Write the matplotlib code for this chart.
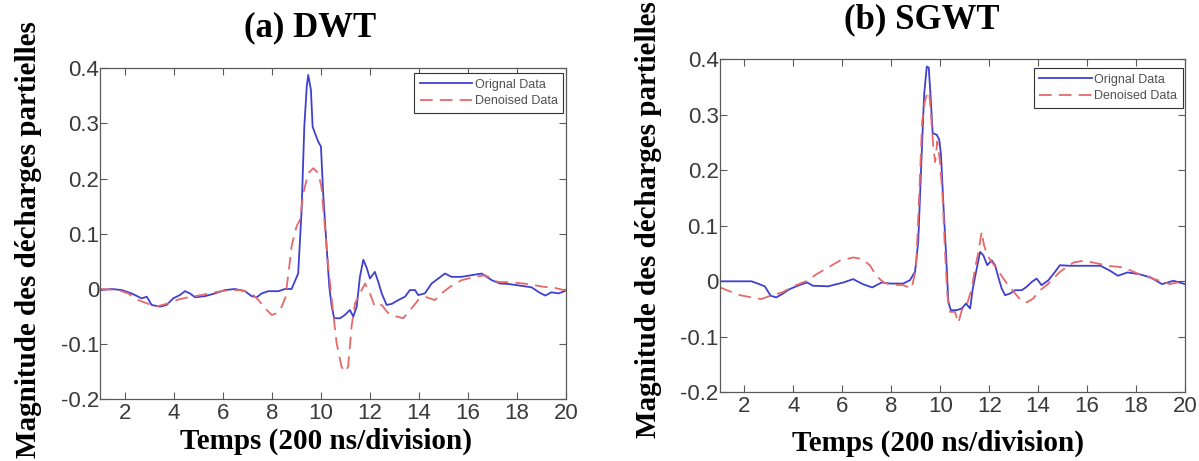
import matplotlib
matplotlib.use("Agg")
import matplotlib.pyplot as plt
from matplotlib.ticker import FuncFormatter, MultipleLocator

plt.rcParams['font.family'] = ['Liberation Sans', 'DejaVu Sans']

# ---- (a) DWT ----
dwt_orig_x = [1.0, 1.46, 1.87, 2.27, 2.68, 2.89, 3.09, 3.43, 3.7, 3.97, 4.24, 4.45, 4.65, 4.86,
              5.27, 5.67, 6.08, 6.49, 6.9, 7.17, 7.38, 7.58, 7.85, 8.26, 8.53, 8.8, 9.07, 9.21,
              9.32, 9.42, 9.48, 9.59, 9.66, 9.76, 9.89, 10.0, 10.09, 10.23, 10.34, 10.44, 10.54,
              10.78, 10.98, 11.18, 11.32, 11.46, 11.59, 11.73, 11.87, 12.0, 12.2, 12.34, 12.48,
              12.68, 12.89, 13.16, 13.43, 13.63, 13.84, 13.97, 14.24, 14.52, 14.79, 15.06, 15.33,
              15.74, 16.15, 16.56, 16.97, 17.3, 17.67, 18.14, 18.6, 18.9, 19.16, 19.4, 19.7, 20.0]
dwt_orig_y = [-0.002, 0.0, -0.002, -0.008, -0.017, -0.014, -0.029, -0.032, -0.029, -0.017, -0.011,
              -0.004, -0.008, -0.015, -0.013, -0.008, -0.002, 0.0, -0.004, -0.013, -0.015, -0.008,
              -0.004, -0.004, 0.0, 0.0, 0.028, 0.143, 0.294, 0.367, 0.388, 0.361, 0.294, 0.282,
              0.267, 0.258, 0.173, 0.077, 0.004, -0.032, -0.053, -0.053, -0.047, -0.038, -0.050,
              -0.032, 0.022, 0.053, 0.038, 0.019, 0.031, 0.013, -0.008, -0.029, -0.027, -0.020,
              -0.014, -0.002, -0.002, -0.011, -0.008, 0.010, 0.019, 0.028, 0.022, 0.022, 0.025,
              0.028, 0.016, 0.010, 0.009, 0.006, 0.003, -0.006, -0.012, -0.006, -0.008, -0.003]

dwt_den_x = [1.0, 1.73, 2.13, 2.54, 2.95, 3.36, 3.77, 4.18, 4.59, 5.13, 5.67, 6.22, 6.76, 7.17,
             7.45, 7.72, 7.99, 8.2, 8.4, 8.55, 8.74, 8.8, 9.0, 9.14, 9.28, 9.48, 9.69, 9.89, 10.02,
             10.16, 10.3, 10.5, 10.64, 10.84, 10.98, 11.11, 11.25, 11.39, 11.59, 11.8, 12.0, 12.2,
             12.48, 12.75, 13.09, 13.36, 13.7, 13.97, 14.24, 14.65, 14.92, 15.27, 15.74, 16.3,
             16.7, 17.2, 17.8, 18.45, 19.08, 19.55, 20.0]
dwt_den_y = [0.0, -0.002, -0.008, -0.020, -0.027, -0.031, -0.026, -0.019, -0.015, -0.011, -0.006,
             -0.002, -0.002, -0.008, -0.020, -0.035, -0.047, -0.044, -0.032, -0.015, 0.053, 0.077,
             0.113, 0.125, 0.173, 0.21, 0.219, 0.21, 0.185, 0.113, 0.040, -0.044, -0.098, -0.141,
             -0.150, -0.141, -0.068, -0.026, -0.008, 0.010, -0.008, -0.032, -0.029, -0.044, -0.050,
             -0.053, -0.035, -0.020, -0.014, -0.020, -0.008, 0.004, 0.016, 0.022, 0.025, 0.013,
             0.012, 0.009, 0.004, 0.002, -0.003]

# ---- (b) SGWT ----
sgwt_orig_x = [1.0, 2.29, 2.6, 2.83, 3.07, 3.3, 3.54, 3.85, 4.17, 4.56, 4.8, 5.42, 6.05, 6.44, 6.83,
               7.22, 7.61, 7.95, 8.49, 8.76, 8.97, 9.1, 9.24, 9.34, 9.45, 9.53, 9.61, 9.69, 9.86,
               9.96, 10.03, 10.13, 10.24, 10.33, 10.43, 10.67, 10.88, 11.05, 11.22, 11.33, 11.49,
               11.63, 11.76, 11.92, 12.1, 12.24, 12.37, 12.51, 12.65, 12.85, 13.06, 13.33, 13.53,
               13.74, 13.94, 14.14, 14.42, 14.69, 14.89, 15.3, 15.92, 16.55, 16.94, 17.26, 17.65,
               18.12, 18.6, 19.06, 19.53, 20.0]
sgwt_orig_y = [0.0, 0.0, -0.005, -0.009, -0.026, -0.029, -0.023, -0.014, -0.008, -0.002, -0.008,
               -0.009, -0.002, 0.004, -0.005, -0.011, -0.002, -0.004, -0.004, 0.002, 0.017, 0.071,
               0.228, 0.336, 0.387, 0.385, 0.33, 0.267, 0.264, 0.255, 0.228, 0.137, 0.047, -0.037,
               -0.052, -0.052, -0.049, -0.040, -0.049, -0.013, 0.023, 0.053, 0.047, 0.029, 0.038,
               0.029, 0.008, -0.013, -0.025, -0.022, -0.016, -0.016, -0.010, -0.001, 0.005, -0.007,
               0.002, 0.017, 0.029, 0.028, 0.028, 0.028, 0.019, 0.010, 0.016, 0.013, 0.007, -0.005,
               0.001, -0.005]

sgwt_den_x = [1.0, 1.34, 1.82, 2.29, 2.68, 3.07, 3.54, 4.0, 4.56, 4.95, 5.42, 5.89, 6.44, 6.83,
              7.14, 7.38, 7.69, 7.95, 8.49, 8.83, 9.01, 9.14, 9.26, 9.37, 9.47, 9.55, 9.64, 9.72,
              9.79, 9.88, 9.99, 10.1, 10.19, 10.29, 10.4, 10.6, 10.74, 10.88, 11.08, 11.29, 11.42,
              11.56, 11.69, 11.79, 11.92, 12.1, 12.31, 12.58, 12.78, 13.06, 13.33, 13.53, 13.8,
              14.08, 14.35, 14.62, 14.89, 15.45, 15.84, 16.24, 16.86, 17.5, 18.12, 18.75, 19.38,
              19.69, 20.0]
sgwt_den_y = [-0.011, -0.017, -0.025, -0.029, -0.032, -0.026, -0.020, -0.009, 0.001, 0.013, 0.025,
              0.037, 0.043, 0.040, 0.028, 0.010, -0.002, -0.006, -0.007, -0.013, 0.023, 0.155,
              0.288, 0.324, 0.339, 0.342, 0.288, 0.24, 0.215, 0.252, 0.215, 0.15, 0.059, -0.025,
              -0.055, -0.055, -0.075, -0.052, -0.043, -0.013, 0.023, 0.053, 0.089, 0.065, 0.047,
              0.035, 0.023, 0.005, -0.007, -0.022, -0.036, -0.038, -0.031, -0.016, -0.007, 0.005,
              0.017, 0.034, 0.037, 0.034, 0.028, 0.025, 0.013, 0.004, -0.005, -0.002, -0.008]

titles = ['(a) DWT', '(b) SGWT']
xlabel = 'Temps (200 ns/division)'
ylabel = 'Magnitude des décharges partielles'
legend_labels = ['Orignal Data', 'Denoised Data']
x_ticks = [2, 4, 6, 8, 10, 12, 14, 16, 18, 20]

BLUE = '#4040d0'
RED = '#e66a6a'
FRAME = '#5a5a5a'
SERIF = ['Liberation Serif', 'DejaVu Serif']

fig = plt.figure(figsize=(11.99, 4.61), dpi=100)

panels = [
    dict(rect=[0.0838, 0.1338, 0.3882, 0.718], data=(dwt_orig_x, dwt_orig_y, dwt_den_x, dwt_den_y),
         leg=(0.994, 0.986), title=(0.2585, 0.939), xl=(0.272, 0.043), yl=(0.024, 0.48)),
    dict(rect=[0.6005, 0.149, 0.3878, 0.7223], data=(sgwt_orig_x, sgwt_orig_y, sgwt_den_x, sgwt_den_y),
         leg=(0.996, 0.974), title=(0.769, 0.957), xl=(0.782, 0.039), yl=(0.541, 0.523)),
]

fmt_y = FuncFormatter(lambda v, _: '0' if abs(v) < 1e-9 else f'{v:.1f}')

for i, p in enumerate(panels):
    ax = fig.add_axes(p['rect'])
    ox, oy, dx, dy = p['data']
    ax.plot(ox, oy, color=BLUE, lw=1.3, label=legend_labels[0])
    ax.plot(dx, dy, color=RED, lw=1.3, ls=(0, (7, 4)), label=legend_labels[1])
    ax.set_xlim(1, 20)
    ax.set_ylim(-0.2, 0.4)
    ax.set_xticks(x_ticks)
    ax.yaxis.set_major_locator(MultipleLocator(0.1))
    ax.yaxis.set_major_formatter(fmt_y)
    ax.tick_params(direction='in', length=5, width=0.8, colors=FRAME, labelcolor='#3a3a3a',
                   labelsize=16, top=True, right=True)
    ax.tick_params(axis='y', pad=1)
    ax.tick_params(axis='x', pad=3)
    for s in ax.spines.values():
        s.set_color(FRAME)
        s.set_linewidth(0.9)
    leg = ax.legend(loc='upper right', bbox_to_anchor=p['leg'], borderaxespad=0,
                    fancybox=False, edgecolor='#333333', framealpha=1, fontsize=9,
                    handlelength=4.2, handletextpad=0.2, borderpad=0.45, labelspacing=0.35)
    leg.get_frame().set_linewidth(0.8)
    for t in leg.get_texts():
        t.set_color('#505050')

    fig.text(*p['title'], titles[i], ha='center', va='center', fontsize=25,
             fontweight='bold', family=SERIF)
    fig.text(*p['xl'], xlabel, ha='center', va='center', fontsize=21,
             fontweight='bold', family=SERIF)
    fig.text(*p['yl'], ylabel, ha='center', va='center', rotation=90, fontsize=21,
             fontweight='bold', family=SERIF)

fig.savefig('out.png', dpi=100)
